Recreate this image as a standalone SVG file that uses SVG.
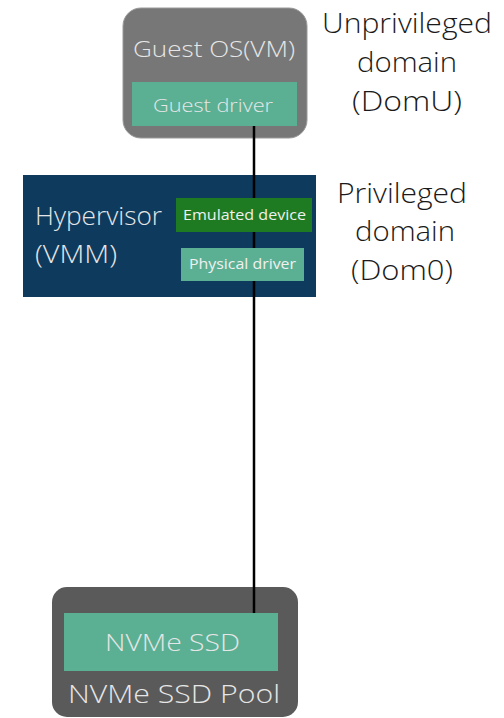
<svg xmlns="http://www.w3.org/2000/svg" width="504" height="718" viewBox="0 0 504 718">
<style>
text{font-family:"Open Sans","Noto Sans","DejaVu Sans",sans-serif;text-anchor:middle}
.lbl{fill:#1a1a1a;font-size:28px;font-weight:300}
.lt{fill:#e6e6e6;font-weight:300}
.sm{fill:#f0f0f0;font-size:14.5px}
.teal{fill:#5bb094}
</style>
<rect width="504" height="718" fill="#ffffff"/>
<g id="guest-os">
<rect x="123" y="8" width="184" height="130" rx="18" fill="#777777" stroke="#9a9a9a" stroke-width="1"/>
<text class="lt" x="214" y="57" font-size="22" textLength="162" lengthAdjust="spacingAndGlyphs">Guest OS(VM)</text>
</g>
<g id="hypervisor">
<rect x="23" y="175" width="293" height="122" fill="#0e3a5d"/>
<text class="lt" x="35" y="225" font-size="25" style="text-anchor:start" textLength="127" lengthAdjust="spacingAndGlyphs">Hypervisor</text>
<text class="lt" x="35" y="263" font-size="25" style="text-anchor:start" textLength="82" lengthAdjust="spacingAndGlyphs">(VMM)</text>
</g>
<g id="pool">
<rect x="52" y="587" width="246" height="130" rx="15" fill="#5a5a5a"/>
<text class="lt" x="174" y="703" font-size="26" textLength="212" lengthAdjust="spacingAndGlyphs">NVMe SSD Pool</text>
</g>
<g id="connectors">
<line x1="254" y1="126" x2="254" y2="613" stroke="#000" stroke-width="2.5"/>
</g>
<g id="guest-driver">
<rect class="teal" x="132" y="82" width="165" height="44"/>
<text class="lt" x="213" y="112" font-size="18.5" textLength="120" lengthAdjust="spacingAndGlyphs">Guest driver</text>
</g>
<g id="emulated-device">
<rect x="176" y="198" width="136" height="34" fill="#1f7b22"/>
<text class="sm" x="244.5" y="220" textLength="123" lengthAdjust="spacingAndGlyphs">Emulated device</text>
</g>
<g id="physical-driver">
<rect class="teal" x="181" y="248" width="123" height="33"/>
<text class="sm" x="242.5" y="269" textLength="107" lengthAdjust="spacingAndGlyphs">Physical driver</text>
</g>
<g id="nvme-ssd">
<rect class="teal" x="64" y="613" width="214" height="58"/>
<text class="lt" x="172.5" y="651" font-size="24.5" textLength="135" lengthAdjust="spacingAndGlyphs">NVMe SSD</text>
</g>
<g id="domu-label">
<text class="lbl" x="407" y="33" textLength="170" lengthAdjust="spacingAndGlyphs">Unprivileged</text>
<text class="lbl" x="407" y="72" textLength="100" lengthAdjust="spacingAndGlyphs">domain</text>
<text class="lbl" x="407" y="111" textLength="110" lengthAdjust="spacingAndGlyphs">(DomU)</text>
</g>
<g id="dom0-label">
<text class="lbl" x="402" y="203" textLength="130" lengthAdjust="spacingAndGlyphs">Privileged</text>
<text class="lbl" x="405" y="241" textLength="100" lengthAdjust="spacingAndGlyphs">domain</text>
<text class="lbl" x="402" y="280" textLength="102" lengthAdjust="spacingAndGlyphs">(Dom0)</text>
</g>
</svg>
